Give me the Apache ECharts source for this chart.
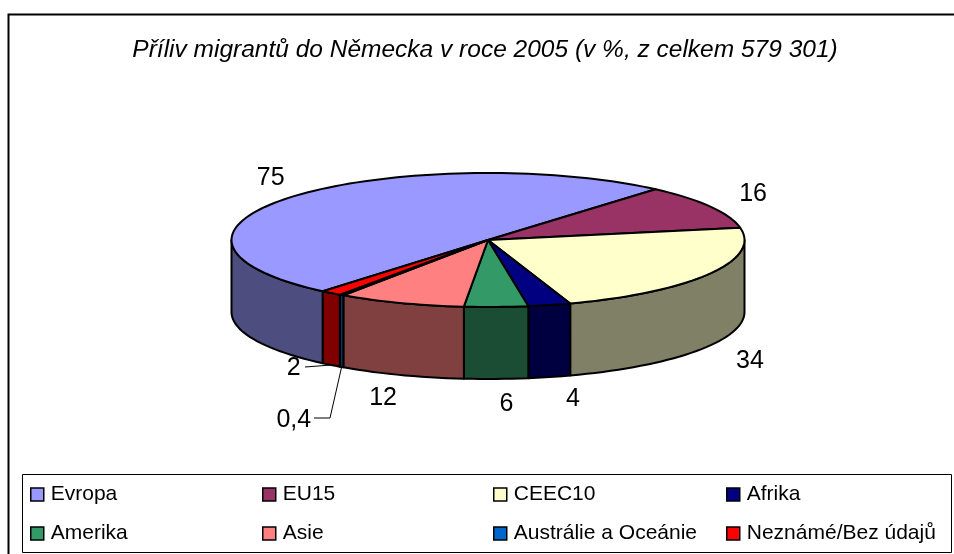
<!DOCTYPE html>
<html>
<head>
<meta charset="utf-8">
<script src="https://cdn.jsdelivr.net/npm/echarts@6/dist/echarts.min.js"></script>
<style>
  html, body { margin: 0; padding: 0; background: #fff; }
  #chart { width: 954px; height: 554px; }
</style>
</head>
<body>
<div id="chart"></div>
<script>
const categories = ["Evropa", "EU15", "CEEC10", "Afrika", "Amerika", "Asie", "Austrálie a Oceánie", "Neznámé/Bez údajů"];
const values = [75, 16, 34, 4, 6, 12, 0.4, 2];
const valueLabels = ["75", "16", "34", "4", "6", "12", "0,4", "2"];
const colors = ["#9999FF", "#993366", "#FFFFCC", "#000080", "#339966", "#FF8080", "#0066CC", "#FF0000"];
const legendColumns = [[0, 4], [1, 5], [2, 6], [3, 7]];
const legendLefts = [30, 262, 493, 726];

// pie geometry, angles are clockwise from the top
const cx = 488, cy = 240, rx = 256.5, ry = 67, depth = 72, firstAngle = 220.1;
const total = values.reduce(function (a, b) { return a + b; }, 0);
// label nudges from the computed spot, and which labels get a leader line
const labelNudge = [[11, 0], [5, 2], [3, 1], [13, -6], [9, -4], [-3, -4], [-23, 29], [-11, -20]];
const leaderBends = { 6: [[330, 418], [314, 418]], 7: [[305, 367]] };

function point(deg, dy, kx, ky) {
  const a = deg * Math.PI / 180;
  return [cx + Math.sin(a) * rx * (kx || 1), cy - Math.cos(a) * ry * (ky || 1) + (dy || 0)];
}
function arc(from, to, dy) {
  const pts = [];
  const n = Math.max(2, Math.ceil((to - from) / 2));
  for (let k = 0; k <= n; k++) pts.push(point(from + (to - from) * k / n, dy));
  return pts;
}
function darker(hex) {
  const n = parseInt(hex.slice(1), 16);
  return "rgb(" + [n >> 16, (n >> 8) & 255, n & 255].map(function (c) { return Math.round(c / 2); }).join(",") + ")";
}

function sliceSeries(i) {
  let before = 0;
  for (let k = 0; k < i; k++) before += values[k];
  return {
    type: "custom",
    name: categories[i],
    coordinateSystem: "none",
    silent: true,
    itemStyle: { color: colors[i] },
    data: [[values[i]]],
    renderItem: function (params, api) {
      const value = api.value(0);
      const start = (firstAngle + before / total * 360) % 360;
      const end = start + value / total * 360;
      const mid = (start + end) / 2;
      const children = [];
      const line = { stroke: "#000", lineWidth: 2, lineJoin: "round" };

      // side wall, only the front half of the rim shows
      const from = Math.max(start, 90), to = Math.min(end, 270);
      if (from < to) {
        children.push({
          type: "polygon", z2: 1,
          shape: { points: arc(from, to, 0).concat(arc(from, to, depth).reverse()) },
          style: Object.assign({ fill: darker(colors[i]) }, line)
        });
      }
      children.push({
        type: "polygon", z2: 2,
        shape: { points: [[cx, cy]].concat(arc(start, end, 0)) },
        style: Object.assign({ fill: colors[i] }, line)
      });

      const norm = mid % 360;
      const front = norm > 90 && norm < 270;
      const p = point(norm, front ? depth : 0, 300 / rx, 96 / ry);
      const tx = p[0] + labelNudge[i][0], ty = p[1] + labelNudge[i][1];
      children.push({
        type: "text", z2: 3,
        style: { text: valueLabels[i], x: tx, y: ty, align: "center", verticalAlign: "middle", fill: "#000", font: "25px 'Liberation Sans'" }
      });
      if (leaderBends[i]) {
        children.push({
          type: "polyline", z2: 3,
          shape: { points: [point(norm, depth)].concat(leaderBends[i]) },
          style: { stroke: "#000", lineWidth: 1, fill: "none" }
        });
      }
      return { type: "group", children: children };
    }
  };
}

const chart = echarts.init(document.getElementById("chart"), null, { renderer: "canvas" });
chart.setOption({
  animation: false,
  backgroundColor: "#fff",
  title: {
    text: "Příliv migrantů do Německa v roce 2005 (v %, z celkem 579 301)",
    left: 485, top: 38, padding: 0, textAlign: "center",
    textStyle: { fontFamily: "Liberation Sans", fontStyle: "italic", fontWeight: "normal", fontSize: 24.5, color: "#000" }
  },
  legend: legendColumns.map(function (idx, c) {
    return {
      orient: "vertical",
      left: legendLefts[c],
      top: 484,
      padding: 0,
      itemWidth: 13,
      itemHeight: 13,
      itemGap: 18,
      selectedMode: false,
      icon: "rect",
      data: idx.map(function (k) { return categories[k]; }),
      itemStyle: { borderColor: "#000", borderWidth: 1.5 },
      textStyle: { fontFamily: "Liberation Sans", fontSize: 21, color: "#000", padding: [0, 0, 0, 2] }
    };
  }),
  graphic: [
    { type: "rect", shape: { x: 8.5, y: 14.5, width: 960, height: 580 }, style: { fill: "none", stroke: "#000", lineWidth: 2 }, z: 0 },
    { type: "rect", shape: { x: 22.5, y: 474.5, width: 929, height: 78 }, style: { fill: "#fff", stroke: "#000", lineWidth: 1 }, z: 0 }
  ],
  series: categories.map(function (c, i) { return sliceSeries(i); })
});
</script>
</body>
</html>
